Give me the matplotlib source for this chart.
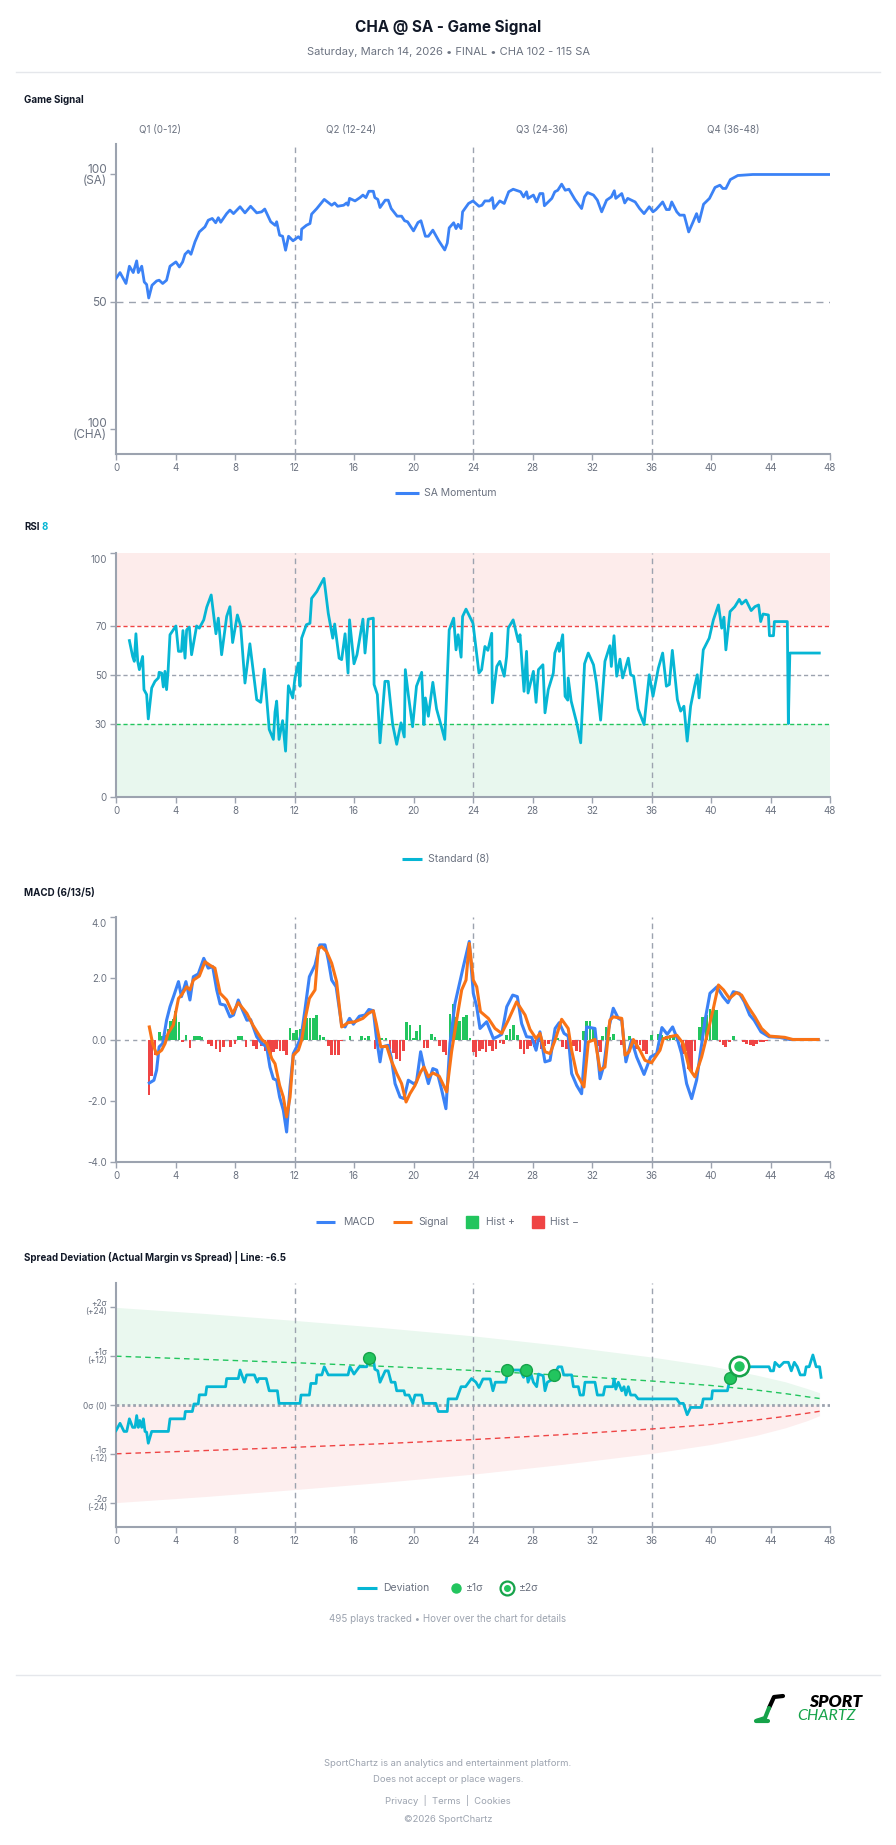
import matplotlib
matplotlib.use("Agg")
import matplotlib.pyplot as plt
from matplotlib.lines import Line2D

plt.rcParams['font.family'] = ['Inter', 'DejaVu Sans']

# ---------------- data (minute, value) ----------------
momentum = [(0, 59.1), (0.27, 61.4), (0.67, 57.1), (0.9, 63.9), (1.16, 61.4), (1.39, 66.0), (1.5, 61.4),
            (1.73, 63.9), (1.9, 57.7), (2.06, 56.7), (2.2, 51.4), (2.42, 56.4), (2.73, 58.1), (2.9, 58.4),
            (3.14, 57.1), (3.4, 58.4), (3.63, 63.9), (4.03, 65.6), (4.26, 63.6), (4.48, 65.6), (4.64, 68.6),
            (4.86, 69.9), (5.04, 68.6), (5.31, 73.5), (5.6, 77.4), (5.98, 79.4), (6.2, 82.0), (6.47, 82.7),
            (6.7, 81.0), (6.88, 83.0), (7.04, 81.2), (7.44, 84.6), (7.66, 86.0), (7.9, 84.6), (8.34, 87.3),
            (8.67, 84.9), (9.05, 87.5), (9.46, 84.9), (9.79, 85.3), (10.0, 86.4), (10.4, 81.4), (10.7, 80.0),
            (10.8, 81.4), (11.0, 76.1), (11.2, 75.7), (11.4, 70.2), (11.6, 75.7), (11.9, 73.9), (12.26, 75.5),
            (12.44, 74.4), (12.48, 78.5), (12.8, 80.0), (13.04, 80.7), (13.15, 84.4), (13.5, 86.6), (14.0, 90.2),
            (14.5, 87.9), (14.7, 88.8), (14.9, 87.5), (15.3, 87.9), (15.5, 88.8), (15.6, 87.9), (15.7, 90.6),
            (16.07, 89.6), (16.4, 90.9), (16.6, 91.9), (16.8, 90.9), (17.0, 93.4), (17.3, 93.4), (17.4, 90.9),
            (17.6, 90.2), (17.75, 87.0), (18.1, 89.9), (18.3, 89.9), (18.5, 86.6), (18.9, 83.6), (19.2, 83.6),
            (19.4, 81.8), (19.6, 81.4), (20.0, 77.8), (20.3, 81.1), (20.5, 81.8), (20.8, 75.7), (21.0, 75.7),
            (21.3, 78.1), (21.7, 73.9), (22.1, 70.3), (22.27, 73.0), (22.4, 79.0), (22.7, 81.0), (22.86, 78.7),
            (23.0, 80.4), (23.2, 78.7), (23.3, 85.3), (23.7, 88.6), (24.0, 89.6), (24.4, 87.5), (24.6, 87.9),
            (24.8, 89.6), (25.1, 89.6), (25.3, 90.9), (25.4, 86.6), (25.8, 89.6), (26.1, 88.6), (26.4, 93.2),
            (26.7, 94.2), (27.2, 93.2), (27.4, 91.2), (27.6, 93.2), (27.7, 90.6), (28.06, 91.9), (28.28, 89.2),
            (28.5, 92.5), (28.7, 92.5), (28.8, 87.7), (29.3, 90.6), (29.5, 93.2), (29.7, 93.8), (29.96, 96.2),
            (30.2, 93.8), (30.45, 94.2), (30.85, 90.2), (31.3, 86.6), (31.5, 91.2), (31.7, 92.9), (32.1, 91.9),
            (32.36, 89.9), (32.65, 85.3), (32.98, 89.9), (33.3, 91.2), (33.5, 93.6), (33.6, 90.6), (34.0, 92.5),
            (34.2, 88.8), (34.4, 90.6), (34.9, 89.2), (35.2, 86.6), (35.5, 84.6), (35.85, 87.3), (36.1, 85.3),
            (36.3, 86.2), (36.5, 87.5), (36.75, 89.2), (37.0, 86.2), (37.2, 86.2), (37.36, 89.2), (37.7, 85.3),
            (37.9, 84.0), (38.2, 84.0), (38.5, 77.4), (38.8, 81.4), (39.03, 84.6), (39.2, 81.4), (39.5, 88.3),
            (39.9, 90.6), (40.27, 94.9), (40.6, 95.8), (40.8, 94.5), (41.0, 94.5), (41.3, 98.0), (41.8, 99.6),
            (42.8, 100.0), (48.0, 100.0)]

rsi = [(0.9, 64.1), (1.12, 57.6), (1.23, 55.6), (1.34, 66.9), (1.46, 55.6), (1.57, 52.2), (1.79, 57.6),
       (1.88, 44), (2.06, 42), (2.17, 32), (2.4, 44.7), (2.62, 47.4), (2.85, 48.8), (2.9, 51.1), (3.07, 50.8),
       (3.18, 45.1), (3.29, 51.5), (3.4, 44), (3.5, 51.5), (3.63, 66.5), (4.03, 70.1), (4.2, 59.7), (4.4, 59.7),
       (4.5, 68.2), (4.64, 56.9), (4.75, 68.5), (4.93, 69.6), (5.08, 58.3), (5.42, 70.1), (5.6, 69.2),
       (5.9, 72.6), (6.1, 77.8), (6.4, 82.8), (6.72, 66.9), (6.88, 73.3), (7.1, 58.3), (7.44, 74), (7.66, 78),
       (7.84, 63.3), (8.16, 74.6), (8.38, 70.1), (8.67, 46.7), (9.0, 62.8), (9.46, 39.9), (9.73, 38.8),
       (9.97, 52.4), (10.3, 27.7), (10.58, 23.6), (10.69, 34.8), (10.8, 39.3), (10.96, 23.6), (11.2, 31.3),
       (11.4, 18.8), (11.59, 45.6), (11.88, 40.6), (12.03, 48.8), (12.26, 54.9), (12.37, 45.4), (12.48, 65.1),
       (12.8, 70.6), (13.04, 71.2), (13.15, 81.4), (13.5, 84.2), (13.7, 86.5), (13.98, 89.6), (14.27, 75.3),
       (14.57, 65.1), (14.7, 70.9), (15.0, 56.9), (15.17, 56.3), (15.4, 66.9), (15.6, 50.8), (15.7, 72.6),
       (16.0, 54.6), (16.2, 58.3), (16.6, 72.9), (16.74, 59), (16.96, 72.9), (17.3, 73.3), (17.35, 46.1),
       (17.57, 42), (17.75, 22.2), (18.08, 47.4), (18.3, 47.4), (18.6, 29.7), (18.87, 21.6), (19.16, 30.4),
       (19.38, 24.6), (19.45, 52.2), (19.65, 42), (19.94, 28.8), (20.2, 45.4), (20.55, 51.1), (20.7, 29.7),
       (20.8, 40.6), (21.0, 33.1), (21.3, 47), (21.55, 36.1), (21.9, 28.3), (22.1, 23.6), (22.2, 38),
       (22.4, 68.5), (22.7, 73.3), (22.86, 60.3), (23.0, 66.5), (23.2, 57.3), (23.3, 74), (23.53, 77),
       (24.0, 71.2), (24.4, 50.8), (24.58, 52.2), (24.8, 61.7), (25.0, 60.1), (25.26, 67.1), (25.3, 38.6),
       (25.6, 53.5), (25.8, 55.6), (26.1, 49.5), (26.26, 57.6), (26.37, 69.2), (26.7, 72.6), (27.05, 63.7),
       (27.16, 66.5), (27.43, 43.3), (27.6, 59.7), (27.7, 42.6), (28.06, 51.5), (28.24, 38.8), (28.4, 52.2),
       (28.7, 54.2), (28.84, 34.5), (29.06, 44), (29.4, 50.8), (29.5, 59), (29.74, 63.1), (29.8, 59.7),
       (30.03, 66.5), (30.19, 41.3), (30.37, 39.7), (30.4, 48.8), (30.6, 39.3), (30.97, 30.4), (31.24, 22.2),
       (31.5, 54.6), (31.75, 59), (32.1, 54.2), (32.3, 46.7), (32.58, 31.5), (32.87, 55.6), (33.2, 62),
       (33.3, 53.5), (33.48, 66.1), (33.66, 49.5), (33.88, 56.5), (34.06, 48.8), (34.44, 56.9), (34.6, 50.1),
       (34.8, 49.5), (35.1, 36.1), (35.5, 29.7), (35.85, 50.1), (36.1, 41.3), (36.46, 52.8), (36.75, 59),
       (37.0, 45.4), (37.2, 46.1), (37.4, 60.1), (37.74, 39.9), (37.96, 35.2), (38.18, 37.2), (38.4, 22.9),
       (38.63, 37.2), (38.9, 45.4), (39.08, 50.1), (39.2, 40.6), (39.48, 60.3), (39.88, 65.1), (40.16, 72.6),
       (40.5, 78.7), (40.72, 69.2), (40.87, 73.7), (41.0, 60.3), (41.28, 76), (41.6, 78), (41.9, 81),
       (42.06, 79.1), (42.35, 80.7), (42.7, 76.4), (42.95, 78), (43.2, 78.7), (43.34, 71.9), (43.5, 75),
       (43.86, 74.6), (43.93, 66.1), (44.2, 66.1), (44.26, 71.9), (45.13, 71.9), (45.2, 30.1), (45.3, 59),
       (47.28, 59)]

macd = [(2.24, -1.42), (2.55, -1.33), (2.73, -1.0), (2.9, -0.24), (3.14, -0.13), (3.4, 0.63), (3.63, 1.07),
        (3.9, 1.45), (4.2, 1.89), (4.4, 1.4), (4.7, 1.89), (4.97, 1.29), (5.2, 2.05), (5.53, 2.14), (5.9, 2.65),
        (6.2, 2.33), (6.5, 2.38), (6.77, 1.62), (7.0, 1.16), (7.33, 1.12), (7.66, 0.74), (7.9, 0.8),
        (8.22, 1.29), (8.45, 1.02), (8.8, 0.63), (9.05, 0.65), (9.46, 0.09), (9.8, -0.13), (10.13, -0.24),
        (10.35, -0.9), (10.58, -1.28), (10.8, -1.33), (11.0, -1.88), (11.25, -2.31), (11.47, -3.02),
        (11.7, -1.55), (11.92, -0.46), (12.26, -0.13), (12.48, 0.2), (12.7, 0.96), (13.0, 2.05), (13.38, 2.43),
        (13.7, 3.09), (14.05, 3.09), (14.27, 2.6), (14.5, 1.94), (14.8, 1.72), (15.17, 0.47), (15.4, 0.41),
        (15.7, 0.69), (15.96, 0.5), (16.36, 0.76), (16.74, 0.8), (17.0, 0.98), (17.3, 0.94), (17.5, 0.09),
        (17.75, -0.73), (17.9, -0.24), (18.3, -0.19), (18.5, -0.57), (18.76, -1.44), (19.1, -1.88),
        (19.36, -1.93), (19.65, -1.33), (20.0, -1.44), (20.2, -1.39), (20.48, -0.4), (20.7, -0.9), (21.0, -1.44),
        (21.3, -0.95), (21.56, -1.0), (21.9, -1.66), (22.18, -2.26), (22.45, -0.13), (22.79, 1.18),
        (23.35, 2.38), (23.75, 3.2), (24.02, 1.51), (24.25, 1.07), (24.47, 0.36), (24.92, 0.58), (25.37, 0.03),
        (25.64, 0.09), (25.93, 0.17), (26.27, 1.07), (26.67, 1.45), (26.98, 1.4), (27.27, 0.52), (27.6, 0.09),
        (27.95, 0.07), (28.24, -0.35), (28.5, 0.25), (28.84, -0.73), (29.18, -0.68), (29.52, 0.36),
        (29.8, 0.55), (30.12, 0.2), (30.4, 0.11), (30.63, -1.11), (30.97, -1.5), (31.3, -1.77), (31.64, 0.41),
        (32.2, 0.36), (32.54, -1.28), (32.8, -0.84), (33.1, 0.31), (33.43, 1.02), (33.77, 0.69), (34.0, 0.63),
        (34.28, -0.73), (34.66, -0.02), (35.0, -0.57), (35.5, -1.14), (35.94, -0.57), (36.35, -0.46),
        (36.7, 0.39), (37.06, 0.17), (37.42, 0.41), (37.73, 0.03), (38.02, -0.46), (38.36, -1.44),
        (38.7, -1.93), (39.03, -1.33), (39.6, 0.63), (39.93, 1.51), (40.4, 1.72), (40.8, 1.4), (41.14, 1.2),
        (41.5, 1.56), (41.9, 1.51), (42.24, 1.23), (42.6, 0.8), (42.9, 0.63), (43.36, 0.25), (43.9, 0.09),
        (44.6, 0.07), (45.3, 0.0), (47.2, 0.0)]

signal = [(2.24, 0.41), (2.46, -0.13), (2.73, -0.48), (3.07, -0.35), (3.3, -0.13), (3.5, 0.2), (3.85, 0.47),
          (4.2, 1.34), (4.4, 1.45), (4.75, 1.72), (4.97, 1.62), (5.2, 1.94), (5.6, 2.07), (5.98, 2.54),
          (6.3, 2.43), (6.65, 2.33), (7.0, 1.51), (7.44, 1.29), (7.84, 0.85), (8.22, 1.2), (8.8, 0.85),
          (9.2, 0.47), (9.8, 0.0), (10.13, -0.13), (10.47, -0.62), (10.69, -0.79), (11.0, -1.5), (11.25, -1.88),
          (11.47, -2.53), (11.7, -1.88), (11.92, -0.51), (12.26, -0.35), (12.48, -0.02), (12.7, 0.63),
          (13.0, 1.34), (13.38, 1.62), (13.6, 2.98), (13.83, 3.03), (14.16, 2.87), (14.5, 2.49), (14.83, 1.89),
          (15.17, 0.41), (15.6, 0.55), (16.07, 0.58), (16.6, 0.69), (16.96, 0.85), (17.3, 0.94), (17.5, 0.52),
          (17.8, -0.24), (18.2, -0.22), (18.5, -0.68), (18.87, -1.11), (19.2, -1.44), (19.5, -2.04),
          (19.76, -1.77), (20.1, -1.5), (20.48, -1.06), (20.7, -0.9), (21.0, -1.22), (21.3, -1.09),
          (21.73, -1.2), (22.23, -1.71), (22.56, -0.4), (22.9, 0.63), (23.24, 1.62), (23.53, 1.94),
          (23.75, 3.14), (24.02, 1.94), (24.25, 1.72), (24.5, 0.91), (25.03, 0.69), (25.48, 0.36), (25.93, 0.2),
          (26.37, 0.63), (26.93, 1.23), (27.5, 0.8), (27.83, 0.33), (28.24, 0.03), (28.5, 0.2), (28.84, -0.4),
          (29.18, -0.46), (29.52, -0.02), (29.96, 0.66), (30.4, 0.36), (30.63, -0.35), (30.97, -1.11),
          (31.46, -1.55), (31.75, -0.08), (32.2, 0.0), (32.54, -1.0), (32.87, -0.9), (33.2, 0.63), (33.43, 0.74),
          (34.0, 0.69), (34.22, -0.51), (34.5, -0.4), (34.78, 0.0), (35.22, -0.35), (35.56, -0.68),
          (36.0, -0.76), (36.57, -0.35), (36.8, 0.03), (37.24, 0.09), (37.7, 0.14), (38.13, -0.13),
          (38.54, -0.95), (38.92, -1.22), (39.37, -0.57), (39.82, 0.31), (40.16, 1.02), (40.5, 1.78),
          (40.84, 1.62), (41.24, 1.34), (41.7, 1.53), (42.06, 1.45), (42.5, 1.07), (42.95, 0.74), (43.4, 0.36),
          (43.95, 0.11), (44.96, 0.07), (45.5, 0.0), (47.2, 0.0)]

hist = [(2.22, -1.81), (2.40, -1.18), (2.62, -0.50), (2.91, 0.24), (3.09, 0.11), (3.29, 0.15), (3.52, 0.35),
        (3.68, 0.62), (3.85, 0.68), (4.01, 0.92), (4.23, 0.57), (4.48, -0.07), (4.71, 0.15), (4.97, -0.28),
        (5.24, 0.13), (5.42, 0.13), (5.60, 0.13), (5.76, 0.08), (6.21, -0.14), (6.43, -0.20), (6.72, -0.30),
        (6.99, -0.41), (7.22, -0.25), (7.71, -0.25), (8.0, -0.14), (8.22, 0.10), (8.45, 0.10), (8.74, -0.25),
        (9.01, -0.03), (9.23, -0.20), (9.46, -0.30), (9.79, -0.20), (10.02, -0.36), (10.24, -0.36),
        (10.42, -0.58), (10.58, -0.41), (10.8, -0.30), (11.03, -0.36), (11.25, -0.36), (11.47, -0.50),
        (11.70, 0.38), (11.92, 0.22), (12.15, 0.32), (12.37, 0.35), (12.6, 0.57), (12.82, 0.70), (13.04, 0.70),
        (13.27, 0.70), (13.49, 0.79), (13.71, 0.15), (13.94, 0.08), (14.27, -0.20), (14.5, -0.52),
        (14.72, -0.50), (14.95, -0.50), (15.17, -0.04), (15.73, 0.11), (15.95, -0.03), (16.29, -0.03),
        (16.51, 0.11), (16.74, 0.05), (16.96, 0.11), (17.19, -0.03), (17.41, -0.30), (17.64, 0.04),
        (17.86, 0.04), (18.15, 0.04), (18.42, -0.30), (18.65, -0.44), (18.87, -0.63), (19.09, -0.69),
        (19.32, -0.36), (19.54, 0.57), (19.77, 0.48), (19.99, 0.04), (20.21, 0.29), (20.44, 0.48),
        (20.71, -0.28), (20.93, -0.28), (21.22, 0.19), (21.45, 0.08), (21.74, -0.20), (22.0, -0.41),
        (22.19, -0.52), (22.45, 0.82), (22.68, 1.15), (22.9, 0.75), (23.12, 0.60), (23.35, 0.74), (23.58, 0.79),
        (23.8, 0.04), (24.02, -0.41), (24.2, -0.58), (24.43, -0.36), (24.65, -0.30), (24.87, -0.41),
        (25.1, -0.20), (25.32, -0.36), (25.55, -0.30), (25.82, -0.11), (26.04, -0.14), (26.26, 0.15),
        (26.49, 0.35), (26.71, 0.48), (26.98, 0.15), (27.2, -0.30), (27.43, -0.47), (27.65, -0.30),
        (27.87, -0.20), (28.16, -0.25), (28.39, -0.09), (28.61, -0.30), (28.84, -0.20), (29.06, -0.14),
        (29.51, 0.11), (29.67, 0.05), (30.03, -0.25), (30.3, -0.30), (30.52, -0.36), (30.74, -0.20),
        (30.97, -0.36), (31.19, -0.41), (31.42, 0.29), (31.64, 0.59), (31.87, 0.59), (32.09, 0.35),
        (32.36, -0.20), (32.58, -0.41), (32.72, 0.11), (32.94, 0.40), (33.17, 0.08), (33.44, 0.19),
        (33.66, -0.03), (34.0, -0.17), (34.22, -0.03), (34.51, 0.13), (34.78, -0.14), (35.0, -0.30),
        (35.23, -0.17), (35.45, -0.36), (35.67, -0.47), (36.0, 0.15), (36.46, 0.19), (36.68, 0.15),
        (37.02, 0.13), (37.24, 0.15), (37.47, 0.11), (37.69, -0.03), (38.1, -0.47), (38.32, -0.39),
        (38.48, -0.95), (38.7, -1.05), (38.92, -0.36), (39.21, 0.40), (39.44, 0.73), (39.71, 0.81),
        (39.93, 1.0), (40.15, 1.0), (40.38, 0.95), (40.6, -0.09), (40.83, -0.17), (41.0, -0.25),
        (41.23, -0.09), (41.5, 0.13), (41.95, -0.03), (42.18, -0.09), (42.4, -0.14), (42.63, -0.17),
        (42.85, -0.20), (43.08, -0.14), (43.3, -0.09), (43.52, -0.07), (43.75, -0.04), (43.97, -0.03)]

deviation = [(0, -6.3), (0.27, -4.5), (0.54, -6.5), (0.72, -6.5), (0.9, -3.4), (1.12, -5.5), (1.28, -5.5),
             (1.39, -2.6), (1.5, -5.5), (1.6, -3.8), (1.73, -5.5), (1.84, -3.4), (1.95, -6.5), (2.06, -6.7),
             (2.17, -9.4), (2.4, -6.5), (3.52, -6.5), (3.63, -3.4), (4.6, -3.4), (4.66, -1.6), (5.13, -1.6),
             (5.24, 0.25), (5.53, 0.25), (5.6, 2.5), (6.03, 2.5), (6.1, 4.5), (7.37, 4.5), (7.44, 6.5),
             (8.22, 6.5), (8.34, 8.6), (8.63, 5.6), (8.78, 7.4), (9.3, 7.4), (9.5, 5.6), (9.6, 6.5), (10.1, 6.5),
             (10.3, 3.5), (10.85, 3.5), (10.96, 0.4), (12.37, 0.4), (12.44, 2.45), (13.0, 2.45), (13.1, 5.3),
             (13.45, 5.3), (13.5, 7.4), (13.84, 7.4), (14.0, 9.4), (14.27, 7.4), (15.6, 7.4), (15.73, 9.4),
             (16.0, 7.6), (16.36, 9.4), (16.85, 9.4), (17.03, 11.3), (17.3, 11.3), (17.4, 8.8), (17.6, 8.4),
             (17.75, 5.6), (18.1, 8.4), (18.3, 8.4), (18.5, 5.6), (18.76, 5.6), (18.87, 3.5), (19.36, 3.5),
             (19.43, 2.45), (19.7, 2.45), (19.95, 0.4), (20.1, 2.45), (20.55, 2.45), (20.66, 0.4), (21.5, 0.4),
             (21.67, -1.6), (22.27, -1.6), (22.33, 1.5), (22.9, 1.5), (23.2, 4.5), (23.5, 4.5), (23.9, 6.5),
             (24.2, 5.6), (24.4, 4.3), (24.67, 6.4), (25.16, 6.4), (25.34, 3.5), (25.5, 5.6), (26.2, 5.6),
             (26.37, 8.6), (27.16, 8.6), (27.4, 6.8), (27.58, 8.8), (27.7, 5.6), (27.9, 7.6), (28.06, 5.6),
             (28.28, 4.5), (28.4, 7.6), (28.72, 7.2), (28.84, 3.5), (29.0, 5.6), (29.4, 6.4), (29.47, 7.6),
             (29.74, 9.4), (29.96, 9.4), (30.1, 7.4), (30.63, 7.4), (30.75, 4.5), (31.08, 4.5), (31.2, 2.45),
             (31.42, 2.45), (31.53, 5.6), (32.2, 5.6), (32.36, 2.45), (32.76, 2.45), (32.87, 4.5), (33.4, 4.5),
             (33.48, 6.4), (33.6, 3.9), (33.77, 5.6), (34.0, 3.5), (34.15, 4.5), (34.28, 2.45), (34.44, 4.5),
             (34.6, 2.45), (34.9, 2.45), (35.1, 1.5), (37.69, 1.5), (37.9, 0.4), (38.14, 0.4), (38.4, -2.4),
             (38.63, -0.6), (39.37, -0.6), (39.48, 1.5), (40.04, 1.5), (40.1, 3.5), (41.1, 3.5), (41.28, 6.5),
             (41.6, 7.6), (41.9, 9.4), (43.9, 9.4), (44.0, 8.4), (44.2, 8.4), (44.3, 10.5), (44.6, 9.4),
             (44.9, 10.5), (45.2, 10.5), (45.4, 8.4), (45.6, 10.5), (45.8, 9.4), (46.0, 7.4), (46.3, 7.4),
             (46.4, 9.4), (46.6, 9.4), (46.85, 12.3), (47.07, 9.4), (47.3, 9.4), (47.4, 6.8)]

band_t = [0, 6, 12, 18, 24, 30, 36, 40, 43, 45, 46.5, 47.3]
band2_hi = [24, 22.5, 20.8, 19.0, 17.0, 14.6, 11.8, 9.6, 7.4, 5.7, 4.0, 3.0]
band2_lo = [-24, -22.5, -20.8, -19.0, -17.0, -14.6, -11.9, -9.7, -7.5, -5.6, -3.8, -2.6]
band1_hi = [12, 11.2, 10.4, 9.5, 8.5, 7.3, 5.9, 4.8, 3.7, 2.8, 2.0, 1.6]
band1_lo = [-12, -11.2, -10.4, -9.5, -8.5, -7.3, -5.9, -4.8, -3.7, -2.8, -2.0, -1.55]

hits_1sigma = [(17.0, 11.5), (26.3, 8.6), (27.58, 8.6), (29.47, 7.5), (41.28, 6.6)]
hits_2sigma = [(41.9, 9.6)]

quarters = ['Q1 (0-12)', 'Q2 (12-24)', 'Q3 (24-36)', 'Q4 (36-48)']
minute_ticks = list(range(0, 49, 4))

# ---------------- style ----------------
W, H = 896, 1845
AXC = '#9ca3af'
TXT = '#6b7280'
DARK = '#111827'
BLUE = '#3b82f6'
CYAN = '#06b6d4'
ORANGE = '#f97316'
GREEN = '#22c55e'
RED = '#ef4444'


def unzip(pairs):
    return [p[0] for p in pairs], [p[1] for p in pairs]


def fx(x):
    return x / W


def fy(y):
    return 1 - y / H


fig = plt.figure(figsize=(W / 100, H / 100), dpi=100)
fig.patch.set_facecolor('white')


def panel(top, bottom, ylim):
    ax = fig.add_axes([fx(116), fy(bottom), (830 - 116) / W, (bottom - top) / H])
    ax.set_xlim(0, 48)
    ax.set_ylim(*ylim)
    for s in ('top', 'right'):
        ax.spines[s].set_visible(False)
    for s in ('left', 'bottom'):
        ax.spines[s].set_color(AXC)
        ax.spines[s].set_linewidth(1.5)
    ax.set_xticks(minute_ticks)
    ax.tick_params(colors=AXC, labelcolor=TXT, length=4, width=1, labelsize=7, pad=2.5)
    for q in (12, 24, 36):
        ax.axvline(q, color=AXC, lw=1, ls=(0, (4, 3)), zorder=1)
    return ax


def top_label(ax, y, text):
    ax.annotate(text, xy=(0, y), xycoords=('axes fraction', 'data'), xytext=(-6.5, -5),
                textcoords='offset points', ha='right', va='center', fontsize=7, color=TXT)


def section(y, text):
    fig.text(fx(24), fy(y), text, fontsize=7, fontweight='bold', color=DARK, va='center', ha='left')


def leg_line(x0, x1, y, color):
    fig.add_artist(Line2D([fx(x0), fx(x1)], [fy(y), fy(y)], color=color, lw=2.2,
                          transform=fig.transFigure, solid_capstyle='butt'))


def leg_marker(x, y, **kw):
    fig.add_artist(Line2D([fx(x)], [fy(y)], transform=fig.transFigure, ls='none', **kw))


def leg_text(x, y, text):
    fig.text(fx(x), fy(y), text, fontsize=7.5, color=TXT, va='center', ha='left')


# ---------------- header ----------------
fig.text(0.5, fy(27), 'CHA @ SA - Game Signal', ha='center', va='center', fontsize=11,
         fontweight='bold', color=DARK)
fig.text(0.5, fy(52), 'Saturday, March 14, 2026 • FINAL • CHA 102 - 115 SA', ha='center', va='center',
         fontsize=8, color=TXT)
fig.add_artist(Line2D([fx(16), fx(880)], [fy(72), fy(72)], color='#e5e7eb', lw=1, transform=fig.transFigure))

# ---------------- game signal ----------------
section(100, 'Game Signal')
for i, q in enumerate(quarters):
    fig.text(fx(160 + 191 * i), fy(130), q, ha='center', va='center', fontsize=7, color=TXT)

ax1 = panel(144, 454, (-10, 112))
ax1.set_yticks([0, 50, 100], ['100\n(CHA)', '50', '100\n(SA)'])
ax1.tick_params(axis='y', labelsize=8.5)
for lab in ax1.get_yticklabels():
    lab.set_linespacing(0.9)
ax1.axhline(50, color=AXC, lw=1, ls=(0, (5, 4)), zorder=1)
t, v = unzip(momentum)
ax1.plot(t, v, color=BLUE, lw=2, zorder=3, solid_joinstyle='round')
leg_line(395, 419, 493, BLUE)
leg_text(424, 493, 'SA Momentum')

# ---------------- RSI ----------------
fig.text(fx(24), fy(527), 'RSI', fontsize=7, fontweight='bold', color=DARK, va='center', ha='left')
fig.text(fx(41), fy(527), '8', fontsize=7, fontweight='bold', color=CYAN, va='center', ha='left')

ax2 = panel(553, 797, (0, 100))
ax2.axhspan(70, 100, color='#fdeceb', zorder=0, lw=0)
ax2.axhspan(0, 30, color='#e8f7ee', zorder=0, lw=0)
ax2.set_yticks([0, 30, 50, 70, 100], ['0', '30', '50', '70', ''])
top_label(ax2, 100, '100')
ax2.axhline(70, color=RED, lw=1, ls=(0, (3, 2)), zorder=1)
ax2.axhline(30, color=GREEN, lw=1, ls=(0, (3, 2)), zorder=1)
ax2.axhline(50, color=AXC, lw=1, ls=(0, (3, 2)), zorder=1)
t, v = unzip(rsi)
ax2.plot(t, v, color=CYAN, lw=2, zorder=3, solid_joinstyle='round')
leg_line(402, 422, 859, CYAN)
leg_text(428, 859, 'Standard (8)')

# ---------------- MACD ----------------
section(893, 'MACD (6/13/5)')
ax3 = panel(917, 1162, (-4, 4))
ax3.set_yticks([-4, -2, 0, 2, 4], ['-4.0', '-2.0', '0.0', '2.0', ''])
top_label(ax3, 4, '4.0')
ax3.axhline(0, color=AXC, lw=1, ls=(0, (3, 3)), zorder=1)
ht, hv = unzip(hist)
ax3.bar(ht, hv, width=0.19, color=[GREEN if x >= 0 else RED for x in hv], zorder=2, lw=0)
t, v = unzip(macd)
ax3.plot(t, v, color=BLUE, lw=2.2, zorder=3, solid_joinstyle='round')
t, v = unzip(signal)
ax3.plot(t, v, color=ORANGE, lw=2.2, zorder=4, solid_joinstyle='round')
leg_line(316, 335, 1222, BLUE)
leg_text(343, 1222, 'MACD')
leg_line(393, 412, 1222, ORANGE)
leg_text(418, 1222, 'Signal')
leg_marker(472, 1222, marker='s', ms=8, color=GREEN)
leg_text(486, 1222, 'Hist +')
leg_marker(538, 1222, marker='s', ms=8, color=RED)
leg_text(550, 1222, 'Hist \u2212')

# ---------------- spread deviation ----------------
section(1258, 'Spread Deviation (Actual Margin vs Spread) | Line: -6.5')
ax4 = panel(1283, 1527, (-30, 30))
ax4.set_yticks([-24, -12, 0, 12, 24],
               ['-2\u03c3\n(-24)', '-1\u03c3\n(-12)', '0\u03c3 (0)', '+1\u03c3\n(+12)', '+2\u03c3\n(+24)'])
ax4.tick_params(axis='y', labelsize=6)
for lab in ax4.get_yticklabels():
    lab.set_linespacing(0.85)
ax4.fill_between(band_t, 0, band2_hi, color='#eaf8ef', lw=0, zorder=0)
ax4.fill_between(band_t, band2_lo, 0, color='#fdeeee', lw=0, zorder=0)
ax4.plot(band_t, band1_hi, color=GREEN, lw=1, ls=(0, (4, 3)), zorder=1)
ax4.plot(band_t, band1_lo, color=RED, lw=1, ls=(0, (4, 3)), zorder=1)
ax4.axhline(0, color=AXC, lw=2, ls=(0, (1, 1)), zorder=1)
t, v = unzip(deviation)
ax4.plot(t, v, color=CYAN, lw=2, zorder=3)
t, v = unzip(hits_1sigma)
ax4.plot(t, v, ls='none', marker='o', ms=8.5, mfc=GREEN, mec='#16a34a', mew=1, zorder=4)
t, v = unzip(hits_2sigma)
ax4.plot(t, v, ls='none', marker='o', ms=14, mfc='white', mec='#16a34a', mew=1.8, zorder=4)
ax4.plot(t, v, ls='none', marker='o', ms=6.5, mfc=GREEN, mec=GREEN, zorder=5)

leg_line(357, 377, 1588, CYAN)
leg_text(383, 1588, 'Deviation')
leg_marker(456, 1588, marker='o', ms=6.5, mfc=GREEN, mec=GREEN)
leg_text(466, 1588, '\u00b11\u03c3')
leg_marker(507, 1588, marker='o', ms=10, mfc='white', mec='#16a34a', mew=1.6)
leg_marker(507, 1588, marker='o', ms=4, mfc=GREEN, mec=GREEN)
leg_text(519, 1588, '\u00b12\u03c3')

fig.text(0.5, fy(1619), '495 plays tracked • Hover over the chart for details', ha='center', va='center',
         fontsize=7, color=AXC)

# ---------------- footer ----------------
fig.add_artist(Line2D([fx(16), fx(880)], [fy(1675), fy(1675)], color='#e5e7eb', lw=1,
                      transform=fig.transFigure))
fig.add_artist(Line2D([fx(783), fx(774), fx(769)], [fy(1696), fy(1697), fy(1708)], color='black', lw=3,
                      transform=fig.transFigure, solid_capstyle='round'))
fig.add_artist(Line2D([fx(769), fx(765), fx(756), fx(768)], [fy(1708), fy(1718), fy(1721), fy(1721)],
                      color='#16a34a', lw=3, transform=fig.transFigure, solid_capstyle='round'))
fig.text(fx(862), fy(1702), 'SPORT', ha='right', va='center', fontsize=12.5, fontweight='heavy',
         style='italic', family=['Lato', 'DejaVu Sans'], color='black')
fig.text(fx(856), fy(1716), 'CHARTZ', ha='right', va='center', fontsize=11.5, style='italic',
         family=['Lato', 'DejaVu Sans'], color='#16a34a')

for y, s in [(1763, 'SportChartz is an analytics and entertainment platform.'),
             (1780, 'Does not accept or place wagers.'),
             (1800, 'Privacy  |  Terms  |  Cookies'),
             (1820, '\u00a92026 SportChartz')]:
    fig.text(0.5, fy(y), s, ha='center', va='center', fontsize=6.8, color=AXC)

fig.savefig('out.png', dpi=100, facecolor='white')
